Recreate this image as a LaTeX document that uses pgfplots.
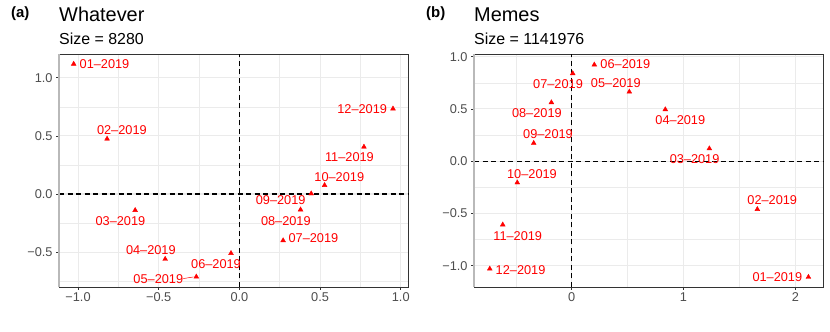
\documentclass[border=0pt]{standalone}
\usepackage{fontspec}
\setmainfont{Liberation Sans}
\usepackage{pgfplots}
\usepackage{pgfplotstable}
\pgfplotsset{compat=1.18}

\definecolor{gray92}{HTML}{EBEBEB}
\definecolor{gray20}{HTML}{333333}
\definecolor{gray30}{HTML}{4D4D4D}

% x y label dx dy  (dx, dy = label offset in bp)
\pgfplotstableread{
x y label dx dy
-1.027 1.118 01--2019 30.8 0
-0.820 0.474 02--2019 14.8 9.0
-0.646 -0.140 03--2019 -14.7 -11.0
-0.460 -0.560 04--2019 -14.3 9.4
-0.267 -0.712 05--2019 -38.0 -2.4
-0.052 -0.510 06--2019 -15.0 -10.7
0.271 -0.400 07--2019 30.3 2.7
0.379 -0.135 08--2019 -14.7 -11.0
0.445 0.003 09--2019 -30.5 -6.7
0.528 0.075 10--2019 14.7 8.3
0.772 0.405 11--2019 -14.5 -10.6
0.952 0.733 12--2019 -30.8 0
}\whatever

\pgfplotstableread{
x y label dx dy
2.117 -1.109 01--2019 -31.1 -0.3
1.660 -0.460 02--2019 14.9 9.3
1.231 0.121 03--2019 -14.8 -10.6
0.837 0.495 04--2019 15.0 -10.3
0.515 0.664 05--2019 -13.5 8.7
0.202 0.923 06--2019 31.0 0.7
0.009 0.840 07--2019 -14.7 -10.6
-0.182 0.562 08--2019 -14.5 -10.6
-0.340 0.173 09--2019 14.3 8.6
-0.487 -0.205 10--2019 14.7 8.4
-0.617 -0.608 11--2019 15.0 -11.0
-0.733 -1.030 12--2019 30.8 -1.0
}\memes

\tikzset{zeros/.style={black, line width=1.1bp, dash pattern=on 5bp off 3.5bp}}

\pgfplotsset{
  panel/.style={
    anchor=south west,
    scale only axis,
    width=349bp, height=233bp,
    grid=both,
    major grid style={color=gray92, line width=1.07bp},
    minor grid style={color=gray92, line width=0.53bp},
    axis line style={gray20, line width=0.55bp},
    tick style={gray20, line width=0.55bp},
    major tick length=2.75bp,
    minor tick length=0pt,
    tick align=outside,
    xtick pos=bottom, ytick pos=left,
    ticklabel style={font=\fontsize{12.8}{14}\selectfont, text=gray30},
    yticklabel style={inner sep=0pt, xshift=-3.5bp},
    xticklabel style={inner sep=0pt, yshift=-3bp},
    clip=false,
  },
  pts/.style={
    only marks, mark=triangle*, mark size=2.8pt, color=red,
    nodes near coords, point meta=explicit symbolic,
    visualization depends on={\thisrow{dx}\as\dx},
    visualization depends on={\thisrow{dy}\as\dy},
    nodes near coords style={anchor=center, inner sep=0pt,
      xshift=\dx*1bp, yshift=\dy*1bp, text=red,
      font=\fontsize{12.8}{14}\selectfont},
  },
}

\begin{document}
\begin{tikzpicture}
\useasboundingbox (0,0) rectangle (830bp,332bp);

\begin{axis}[panel, at={(59bp,45bp)},
  xmin=-1.118, xmax=1.045, ymin=-0.80, ymax=1.204,
  xtick={-1,-0.5,0,0.5,1}, xticklabels={−1.0,−0.5,0.0,0.5,1.0},
  ytick={-0.5,0,0.5,1}, yticklabels={−0.5,0.0,0.5,1.0},
  minor xtick={-0.75,-0.25,0.25,0.75},
  minor ytick={-0.75,-0.25,0.25,0.75},
]
\draw[zeros] (axis cs:0,-0.80) -- (axis cs:0,1.204);
\draw[zeros] (axis cs:-1.118,0) -- (axis cs:1.045,0);
\draw[gray!55, line width=1.6bp] (rel axis cs:0,0) -- (rel axis cs:0,1);
\addplot[pts] table[x=x, y=y, meta=label] {\whatever};
\draw[red, line width=0.5bp] (axis cs:-0.267,-0.712) ++(-3bp,-0.2bp) -- ++(-10bp,-1.6bp);
\end{axis}

\begin{axis}[panel, at={(474bp,45bp)}, width=349.3bp,
  xmin=-0.874, xmax=2.25, ymin=-1.204, ymax=1.026,
  xtick={0,1,2}, xticklabels={0,1,2},
  ytick={-1,-0.5,0,0.5,1}, yticklabels={−1.0,−0.5,0.0,0.5,1.0},
  minor xtick={-0.5,0.5,1.5},
  minor ytick={-0.75,-0.25,0.25,0.75},
]
\draw[zeros] (axis cs:0,-1.204) -- (axis cs:0,1.026);
\draw[zeros] (axis cs:-0.874,0) -- (axis cs:2.25,0);
\draw[gray!55, line width=1.6bp] (rel axis cs:0,0) -- (rel axis cs:0,1);
\addplot[pts] table[x=x, y=y, meta=label] {\memes};
\end{axis}

\node[anchor=base west, inner sep=0pt, font=\fontsize{15}{18}\bfseries\selectfont] at (11bp,314.3bp) {(a)};
\node[anchor=base west, inner sep=0pt, font=\fontsize{20}{24}\selectfont] at (59bp,310.3bp) {Whatever};
\node[anchor=base west, inner sep=0pt, font=\fontsize{16}{19}\selectfont] at (59bp,287.7bp) {Size = 8280};

\node[anchor=base west, inner sep=0pt, font=\fontsize{15}{18}\bfseries\selectfont] at (426bp,314.3bp) {(b)};
\node[anchor=base west, inner sep=0pt, font=\fontsize{20}{24}\selectfont] at (474bp,310.3bp) {Memes};
\node[anchor=base west, inner sep=0pt, font=\fontsize{16}{19}\selectfont] at (474bp,287.7bp) {Size = 1141976};
\end{tikzpicture}
\end{document}
